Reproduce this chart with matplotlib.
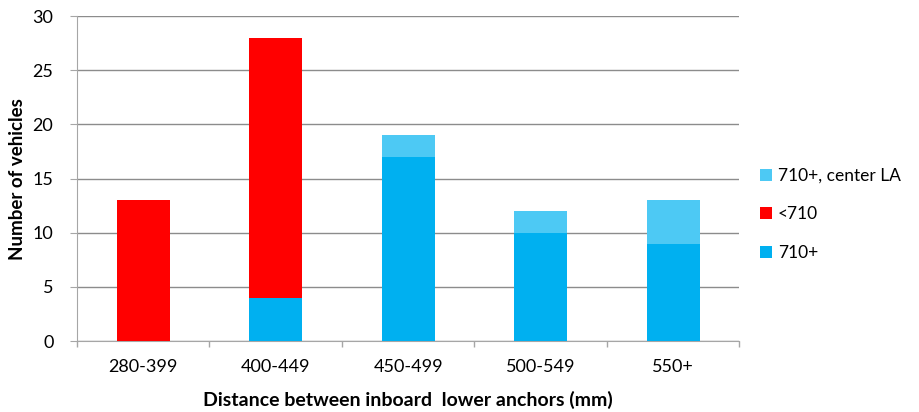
import matplotlib.pyplot as plt
import numpy as np

# Categories and stacked counts
categories = ['280-399', '400-449', '450-499', '500-549', '550+']
n_710plus = [0, 4, 17, 10, 9]
n_under710 = [13, 24, 0, 0, 0]
n_center_la = [0, 0, 2, 2, 4]

plt.rcParams['font.family'] = ['Lato', 'DejaVu Sans']

fig = plt.figure(figsize=(9.2, 4.12), dpi=100)
ax = fig.add_axes([0.0837, 0.172, 0.72, 0.789])

x = np.arange(len(categories))
w = 0.4
b1 = ax.bar(x, n_710plus, w, color='#00B0F0', label='710+', zorder=3)
b2 = ax.bar(x, n_under710, w, bottom=n_710plus, color='#FF0000', label='<710', zorder=3)
bottom3 = np.array(n_710plus) + np.array(n_under710)
b3 = ax.bar(x, n_center_la, w, bottom=bottom3, color='#4DC9F4', label='710+, center LA', zorder=3)

ax.set_xlim(-0.5, len(categories) - 0.5)
ax.set_ylim(0, 30)
ax.set_yticks(range(0, 31, 5))
ax.yaxis.grid(True, color='#8C8C8C', linewidth=1)
ax.set_axisbelow(True)

ax.set_xticks(x)
ax.set_xticklabels(categories, fontsize=13)
ax.set_xticks(np.arange(-0.5, len(categories)), minor=True)
ax.tick_params(axis='x', which='major', length=0, pad=13)
ax.tick_params(axis='x', which='minor', length=4, color='#A6A6A6', width=1)
ax.tick_params(axis='y', length=5, color='#A6A6A6', labelsize=13, pad=12)

for s in ['top', 'right']:
    ax.spines[s].set_visible(False)
ax.spines['left'].set_color('#A6A6A6')
ax.spines['bottom'].set_color('#A6A6A6')

ax.set_xlabel('Distance between inboard  lower anchors (mm)', fontsize=14, fontweight='bold', labelpad=11)
ax.set_ylabel('Number of vehicles', fontsize=13.5, fontweight='bold', labelpad=5)

ax.legend(handles=[b3, b2, b1], loc='center left', bbox_to_anchor=(1.02, 0.39),
          frameon=False, fontsize=12.5, handlelength=0.7, handleheight=0.7,
          labelspacing=1.3, handletextpad=0.35, borderaxespad=0)

fig.savefig('out.png', dpi=100)
